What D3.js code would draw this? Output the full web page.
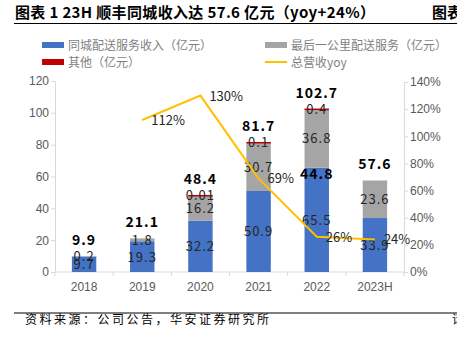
<!DOCTYPE html>
<html>
<head>
<meta charset="utf-8">
<script src="https://cdn.jsdelivr.net/npm/d3@7/dist/d3.min.js"></script>
<style>
  body { margin: 0; background: #fff; }
  svg { display: block; }
  text { font-family: "Noto Sans CJK SC", sans-serif; }
  .axis text { font-family: "Liberation Sans Narrow", "Liberation Sans", sans-serif; font-size: 12px; fill: #595959; }
  .axis path, .axis line { stroke: #d9d9d9; }
</style>
</head>
<body>
<script>
var w = 457;
var h = 350;

var years = ["2018", "2019", "2020", "2021", "2022", "2023H"];
var cityDelivery = [9.7, 19.3, 32.2, 50.9, 65.5, 33.9];
var lastMile = [0.2, 1.8, 16.2, 30.7, 36.8, 23.6];
var others = [0, 0, 0.01, 0.1, 0.4, 0];
var otherLabels = ["", "", "0.01", "0.1", "0.4", ""];
var totals = ["9.9", "21.1", "48.4", "81.7", "102.7", "57.6"];
var yoy = [null, 112, 130, 69, 26, 24];
var leftTicks = [0, 20, 40, 60, 80, 100, 120];
var rightTicks = [0, 20, 40, 60, 80, 100, 120, 140];

var colors = { city: "#4472c4", mile: "#a5a5a5", other: "#c00000", yoy: "#ffc000" };

var svg = d3.select("body").append("svg")
    .attr("width", w)
    .attr("height", h);

// title
svg.append("text")
  .attr("x", 15).attr("y", 18)
  .attr("font-size", 15).attr("font-weight", "bold")
  .attr("letter-spacing", 0.35)
  .attr("fill", "#000")
  .text("图表 1 23H 顺丰同城收入达 57.6 亿元（yoy+24%）");
svg.append("text")
  .attr("x", 432).attr("y", 18)
  .attr("font-size", 15).attr("font-weight", "bold")
  .text("图表");
svg.append("line")
  .attr("x1", 14).attr("x2", w).attr("y1", 23.5).attr("y2", 23.5)
  .attr("stroke", "#000").attr("stroke-width", 1.2);

// legend
var legend = [
  { label: "同城配送服务收入（亿元）", color: colors.city, x: 42, y: 45, type: "rect" },
  { label: "最后一公里配送服务（亿元）", color: colors.mile, x: 265, y: 45, type: "rect" },
  { label: "其他（亿元）", color: colors.other, x: 42, y: 62, type: "rect" },
  { label: "总营收yoy", color: colors.yoy, x: 265, y: 62, type: "line" }
];
legend.forEach(function(d) {
  if (d.type == "rect") {
    svg.append("rect").attr("x", d.x).attr("y", d.y - 3).attr("width", 22).attr("height", 6).attr("fill", d.color);
  } else {
    svg.append("line").attr("x1", d.x).attr("x2", d.x + 22).attr("y1", d.y).attr("y2", d.y)
      .attr("stroke", d.color).attr("stroke-width", 2);
  }
  svg.append("text").attr("x", d.x + 26).attr("y", d.y + 4.5)
    .attr("font-size", 12).attr("fill", "#7f7f7f").text(d.label);
});

var plotLeft = 55, plotRight = 404, plotTop = 81, plotBottom = 272;

var x = d3.scaleBand()
  .domain(years)
  .range([plotLeft, plotRight])
  .paddingInner(0.58)
  .paddingOuter(0.29);

var xOuter = d3.scaleBand().domain(years).range([plotLeft, plotRight]);

var y = d3.scaleLinear().domain([0, 120]).range([plotBottom, plotTop]);
var y2 = d3.scaleLinear().domain([0, 140]).range([plotBottom, 82]);

// axes
svg.append("g")
  .attr("class", "axis")
  .attr("transform", "translate(" + plotLeft + ",0)")
  .call(d3.axisLeft(y).tickValues(leftTicks).tickSize(4).tickSizeOuter(0))
  .call(function(g) { g.selectAll("text").attr("x", -6); });

svg.append("g")
  .attr("class", "axis")
  .attr("transform", "translate(" + plotRight + ",0)")
  .call(d3.axisRight(y2).tickValues(rightTicks).tickSize(4).tickSizeOuter(0).tickFormat(function(d) { return d + "%"; }))
  .call(function(g) { g.selectAll("text").attr("x", 6); });

var xAxis = svg.append("g")
  .attr("class", "axis")
  .attr("transform", "translate(0," + plotBottom + ")");
xAxis.append("line").attr("x1", plotLeft).attr("x2", plotRight).attr("stroke", "#d9d9d9");
xAxis.selectAll("line.tk")
  .data(years.concat(["end"]))
  .enter().append("line")
  .attr("class", "tk")
  .attr("x1", function(d, i) { return plotLeft + i * xOuter.bandwidth(); })
  .attr("x2", function(d, i) { return plotLeft + i * xOuter.bandwidth(); })
  .attr("y1", 0).attr("y2", 4);
xAxis.selectAll("text")
  .data(years)
  .enter().append("text")
  .attr("x", function(d) { return xOuter(d) + xOuter.bandwidth() / 2; })
  .attr("y", 19)
  .attr("text-anchor", "middle")
  .text(function(d) { return d; });

// stacked bars
var rows = years.map(function(yr, i) {
  return { year: yr, city: cityDelivery[i], mile: lastMile[i], other: others[i] };
});
var stack = d3.stack().keys(["city", "mile", "other"]);
var series = stack(rows);

svg.selectAll("g.series")
  .data(series)
  .enter().append("g")
  .attr("class", "series")
  .attr("fill", function(d) { return colors[d.key]; })
  .selectAll("rect")
  .data(function(d) { return d; })
  .enter().append("rect")
  .attr("x", function(d) { return x(d.data.year); })
  .attr("width", x.bandwidth())
  .attr("y", function(d) { return y(d[1]); })
  .attr("height", function(d) { return y(d[0]) - y(d[1]); });

// red slivers a bit thicker so they show, as in the original
svg.selectAll("g.series").filter(function(d) { return d.key == "other"; })
  .selectAll("rect")
  .attr("height", function(d) { return d.data.other > 0 ? Math.max(1.5, y(d[0]) - y(d[1])) : 0; });

var cx = function(i) { return x(years[i]) + x.bandwidth() / 2; };

// segment labels
series[0].forEach(function(d, i) {
  svg.append("text").attr("x", cx(i)).attr("y", y((d[0] + d[1]) / 2) + 5)
    .attr("text-anchor", "middle").attr("font-size", 13).attr("letter-spacing", 1)
    .attr("fill", "#262626").text(cityDelivery[i]);
});
series[1].forEach(function(d, i) {
  svg.append("text").attr("x", cx(i)).attr("y", y((d[0] + d[1]) / 2) + 5)
    .attr("text-anchor", "middle").attr("font-size", 13).attr("letter-spacing", 1)
    .attr("fill", "#262626").text(lastMile[i]);
});
series[2].forEach(function(d, i) {
  if (!otherLabels[i]) return;
  svg.append("text").attr("x", cx(i)).attr("y", y(d[1]) + 5)
    .attr("text-anchor", "middle").attr("font-size", 13).attr("letter-spacing", 1)
    .attr("fill", "#262626").text(otherLabels[i]);
});
// totals
series[2].forEach(function(d, i) {
  svg.append("text").attr("x", cx(i)).attr("y", y(d[1]) - 11)
    .attr("text-anchor", "middle").attr("font-size", 14).attr("font-weight", "bold")
    .attr("letter-spacing", 1)
    .attr("fill", "#000").text(totals[i]);
});
// stray annotation in the original
svg.append("text").attr("x", cx(4)).attr("y", y(cityDelivery[4]) + 11)
  .attr("text-anchor", "middle").attr("font-size", 14).attr("font-weight", "bold")
  .attr("letter-spacing", 1).attr("fill", "#000").text("44.8");

// yoy line
var yoyData = years.map(function(yr, i) { return { i: i, v: yoy[i] }; }).filter(function(d) { return d.v != null; });
var line = d3.line()
  .x(function(d) { return cx(d.i); })
  .y(function(d) { return y2(d.v); });

svg.append("path")
  .attr("d", line(yoyData))
  .attr("fill", "none")
  .attr("stroke", colors.yoy)
  .attr("stroke-width", 2);

svg.selectAll("text.yoy")
  .data(yoyData)
  .enter().append("text")
  .attr("class", "yoy")
  .attr("x", function(d) { return cx(d.i) + 9; })
  .attr("y", function(d) { return y2(d.v) + 5; })
  .attr("font-family", "'Liberation Sans Narrow', 'Liberation Sans', sans-serif")
  .attr("font-size", 13)
  .attr("fill", "#262626")
  .text(function(d) { return d.v + "%"; });

// source
svg.append("line")
  .attr("x1", 14).attr("x2", w).attr("y1", 313).attr("y2", 313)
  .attr("stroke", "#000").attr("stroke-width", 1);
svg.append("text")
  .attr("x", 25).attr("y", 324)
  .attr("font-size", 12).attr("fill", "#000")
  .attr("letter-spacing", 2.5)
  .text("资料来源：公司公告，华安证券研究所");
svg.append("text")
  .attr("x", 452).attr("y", 324)
  .attr("font-size", 12).attr("fill", "#000")
  .text("请");
</script>
</body>
</html>
